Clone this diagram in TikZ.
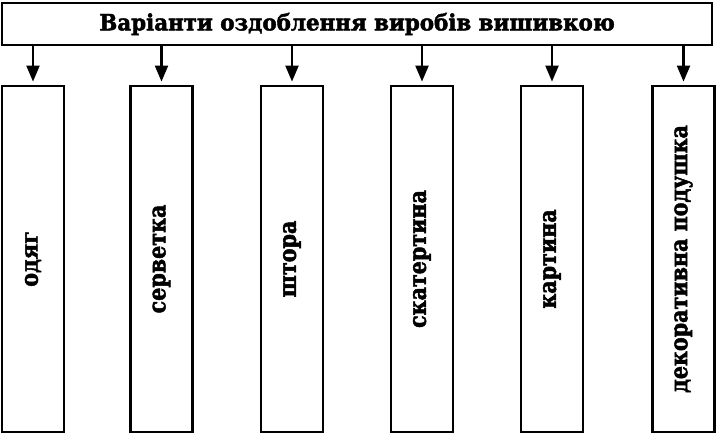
\documentclass[tikz,border=0pt]{standalone}
\usepackage{fontspec}
\newfontfamily\titlefont{DejaVu Serif Bold}[FakeStretch=0.95, FakeBold=2]
\newfontfamily\labfont{DejaVu Serif Bold}[FakeStretch=0.86, FakeBold=2]
\usetikzlibrary{arrows.meta}
\tikzset{
  frame/.style={draw, line width=2.8pt, inner sep=0pt},
  titlebox/.style={frame, minimum width=710pt, minimum height=42pt, font=\titlefont\fontsize{22.5}{26}\selectfont},
  vbox/.style={frame, rotate=90, minimum width=346pt, minimum height=62pt, font=\labfont\fontsize{24}{28}\selectfont},
  arr/.style={line width=2.2pt, -{Triangle[width=13pt,length=16pt]}, shorten >=3pt}
}
\begin{document}
\begin{tikzpicture}[x=1pt,y=1pt]
\useasboundingbox (0,0) rectangle (717,436);
\node[titlebox] (t) at (357,412) {Варіанти оздоблення виробів вишивкою};
\node[vbox] (b1) at (33,177) {одяг};
\node[vbox] (b2) at (161.5,177) {серветка};
\node[vbox] (b3) at (292,177) {штора};
\node[vbox] (b4) at (422,177) {скатертина};
\node[vbox] (b5) at (552,177) {картина};
\node[vbox] (b6) at (683.5,177) {декоративна подушка};
\foreach \b in {b1,b2,b3,b4,b5,b6}
  \draw[arr] (t.south -| \b.east) -- (\b.east);
\end{tikzpicture}
\end{document}
